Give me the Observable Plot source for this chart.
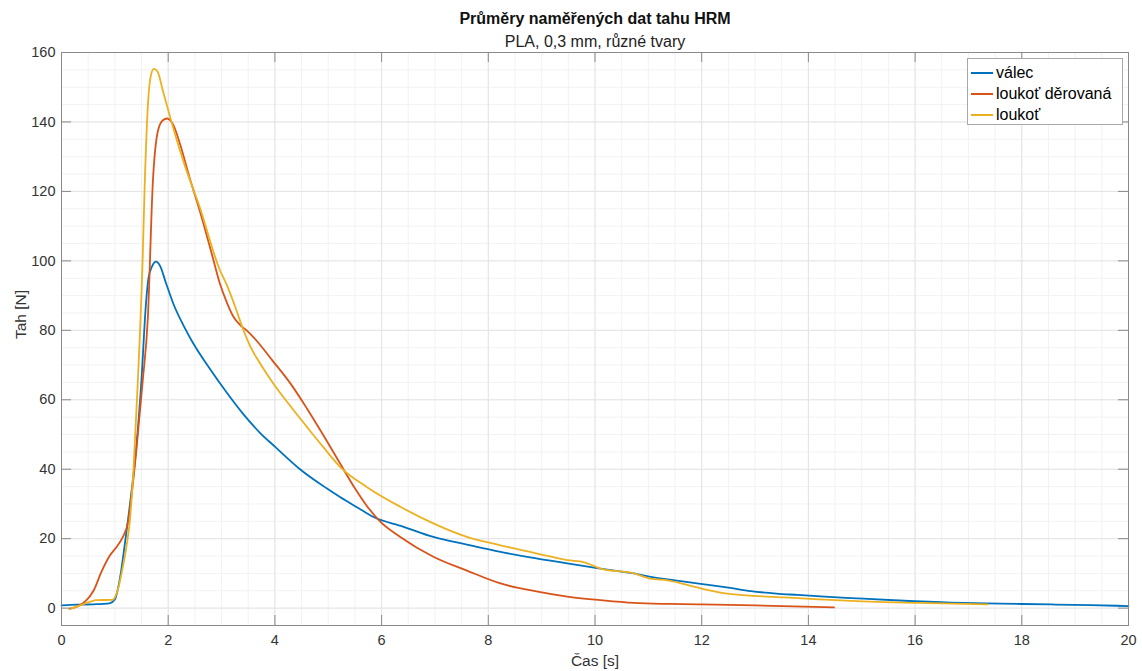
<!DOCTYPE html>
<html><head><meta charset="utf-8">
<script src="https://cdn.jsdelivr.net/npm/d3@7"></script>
<script src="https://cdn.jsdelivr.net/npm/@observablehq/plot@0.6"></script>
<style>
body{margin:0;background:#fff;}
#wrap{position:relative;width:1142px;height:671px;font-family:"Liberation Sans",Arial,sans-serif;}
#legend{position:absolute;left:967px;top:58px;width:156px;height:67px;border:1px solid #a8a8a8;background:#fff;box-sizing:border-box;font-size:16px;color:#000;}
.row{position:absolute;left:3px;height:20px;display:flex;align-items:center;white-space:nowrap;}
.sw{width:22px;height:0;border-top:2px solid;margin-right:3px;}
</style></head><body><div id="wrap"></div>
<script>
const title = "Průměry naměřených dat tahu HRM";
const subtitle = "PLA, 0,3 mm, různé tvary";
const xLabel = "Čas [s]";
const yLabel = "Tah [N]";
const seriesNames = ["válec", "loukoť děrovaná", "loukoť"];
const seriesColors = ["#0072BD", "#D95319", "#EDB120"];
const xTicks = [0, 2, 4, 6, 8, 10, 12, 14, 16, 18, 20];
const yTicks = [0, 20, 40, 60, 80, 100, 120, 140, 160];
const xMinor = d3.range(0, 20.01, 0.5);
const yMinor = d3.range(-5, 160.01, 5);

const valecT = [0,0.3,0.6,0.9,1.0,1.1,1.2,1.3,1.4,1.5,1.58,1.63,1.7,1.77,1.85,1.95,2.1,2.3,2.46,2.8,3.1,3.4,3.72,4.0,4.47,4.97,5.22,5.6,5.84,6.4,6.97,7.6,8.23,8.9,9.48,10.1,10.73,11.04,11.5,11.98,12.5,12.92,13.4,13.8,14.3,14.8,15.7,16.68,17.6,18.55,19.3,20];
const valecF = [0.8,1.0,1.1,1.4,2.5,9,20,32,46,66,87,95,98.5,99.8,98.5,94,87.5,81,76.5,68.5,62,56,50.5,46.5,40,34.5,32,28.5,26.3,23.5,20.5,18.3,16.2,14.3,12.9,11.4,10,9,8,7,5.9,4.9,4.2,3.8,3.3,2.9,2.2,1.6,1.3,1.06,0.85,0.6];

const derT = [0.15,0.3,0.45,0.6,0.75,0.9,1.05,1.15,1.25,1.31,1.4,1.52,1.62,1.71,1.81,1.9,1.98,2.1,2.22,2.4,2.59,2.8,2.97,3.1,3.22,3.35,3.47,3.6,3.97,4.3,4.6,4.9,5.22,5.5,5.72,5.97,6.35,6.97,7.6,8.23,8.9,9.48,10.1,10.73,11.4,11.98,13,14.48];
const derF = [-0.2,0.5,2,5,10.5,15,18,20.5,25,32,45,65,84,122,137.6,140.5,141,139,133.7,124,114.5,103,93.4,88,84,81.5,80,78,71,64.5,57.5,50,41.7,34.5,29.5,25,20.5,14.8,10.8,7.1,4.8,3.3,2.3,1.5,1.2,1.06,0.8,0.2];

const loukT = [0.15,0.35,0.53,0.65,0.96,1.05,1.15,1.22,1.28,1.35,1.43,1.52,1.56,1.62,1.67,1.73,1.8,1.9,2.09,2.3,2.59,2.97,3.1,3.25,3.4,3.55,3.7,3.97,4.3,4.6,4.9,5.22,5.72,6.35,6.97,7.6,8.23,8.9,9.48,9.8,10.1,10.73,11.04,11.36,11.98,12.48,13.54,14.8,16.05,17.36];
const loukF = [-0.3,0.8,1.8,2.3,2.4,5,11.9,18,25,40,65,100,122,145,153,155.3,154.5,149,138.5,128,115.5,97.3,93,87,80.5,75,71,64.7,58,52.2,46.5,40.7,34.9,29.2,24.4,20.5,18.1,15.8,13.8,13.2,11.4,10,8.5,8,5.7,4.2,3.1,2.1,1.5,1.06];

const rows = [];
[[valecT, valecF], [derT, derF], [loukT, loukF]].forEach(([ts, fs], i) => {
  ts.forEach((t, j) => rows.push({series: seriesNames[i], t, f: fs[j]}));
});

const font = "Liberation Sans, Arial, sans-serif";
const axisColor = "#8a8a8a";
const textColor = "#333";

const chart = Plot.plot({
  width: 1142, height: 671,
  marginLeft: 61, marginRight: 14, marginTop: 52, marginBottom: 46,
  style: {fontFamily: font, fontSize: "14px", background: "#fff", color: textColor},
  x: {domain: [0, 20], label: null},
  y: {domain: [-5, 160], label: null},
  color: {domain: seriesNames, range: seriesColors},
  marks: [
    Plot.ruleX(xMinor, {x: d => d, stroke: "#f2f2f2", strokeWidth: 1}),
    Plot.ruleY(yMinor, {y: d => d, stroke: "#f2f2f2", strokeWidth: 1}),
    Plot.ruleX(xTicks, {x: d => d, stroke: "#e4e4e4", strokeWidth: 1}),
    Plot.ruleY(yTicks, {y: d => d, stroke: "#e4e4e4", strokeWidth: 1}),
    Plot.line(rows, {x: "t", y: "f", z: "series", stroke: "series", strokeWidth: 1.8, curve: "monotone-x"}),
    Plot.frame({stroke: axisColor, strokeWidth: 1}),
    Plot.tickX(xTicks, {x: d => d, insetTop: 563, stroke: axisColor}),
    Plot.tickX(xTicks, {x: d => d, insetBottom: 563, stroke: axisColor}),
    Plot.tickY(yTicks, {y: d => d, insetRight: 1057, stroke: axisColor}),
    Plot.tickY(yTicks, {y: d => d, insetLeft: 1057, stroke: axisColor}),
    Plot.axisX(xTicks, {tickSize: 0, tickPadding: 9, label: null, fontSize: 14.5, fill: textColor}),
    Plot.axisY(yTicks, {tickSize: 0, tickPadding: 6, label: null, fontSize: 14.5, fill: textColor}),
    Plot.text([xLabel], {text: d => d, frameAnchor: "bottom", dy: 36, fontSize: 15.5, fill: textColor, lineAnchor: "middle"}),
    Plot.text([yLabel], {text: d => d, frameAnchor: "left", dx: -40, rotate: -90, fontSize: 15.5, fill: textColor, lineAnchor: "middle"}),
    Plot.text([title], {text: d => d, frameAnchor: "top", dy: -34, fontSize: 16, fontWeight: "bold", fill: "#111", lineAnchor: "middle"}),
    Plot.text([subtitle], {text: d => d, frameAnchor: "top", dy: -11, fontSize: 16, fill: "#222", lineAnchor: "middle"})
  ]
});

const wrap = document.getElementById("wrap");
wrap.appendChild(chart);
const legend = document.createElement("div");
legend.id = "legend";
seriesNames.forEach((name, i) => {
  const row = document.createElement("div");
  row.className = "row";
  row.style.top = (4 + i * 21) + "px";
  const sw = document.createElement("span");
  sw.className = "sw";
  sw.style.borderTopColor = seriesColors[i];
  const tx = document.createElement("span");
  tx.textContent = name;
  row.appendChild(sw); row.appendChild(tx);
  legend.appendChild(row);
});
wrap.appendChild(legend);
</script>
</body></html>
